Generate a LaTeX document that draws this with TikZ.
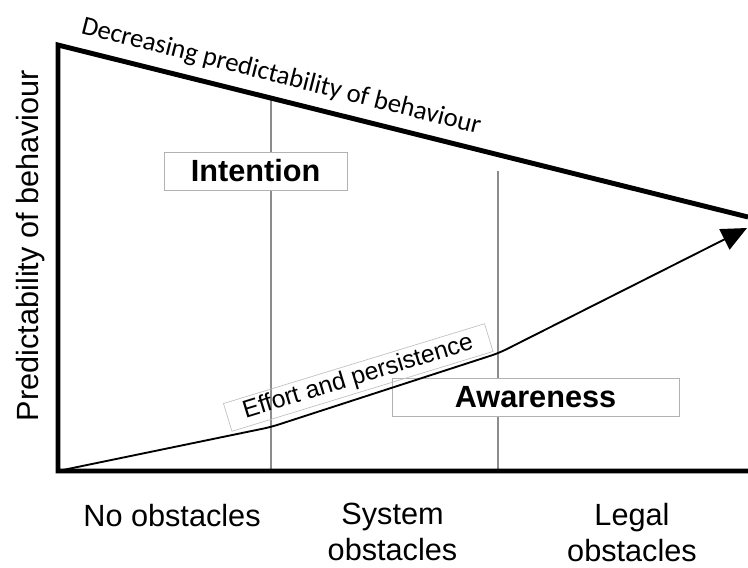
\documentclass[tikz,border=0pt]{standalone}
\usepackage{fontspec}
\setmainfont{Liberation Sans}
\newfontfamily\calibrifont{Carlito}
\usetikzlibrary{arrows.meta}

\tikzset{
	divider/.style={line width=1.5pt, color=black!45},
	boxlabel/.style={draw=black!30, line width=0.6pt, fill=white, minimum height=28.5pt, inner sep=0pt, font=\fontsize{23}{27}\selectfont\bfseries},
	axislabel/.style={font=\fontsize{23}{27}\selectfont, align=center, inner sep=0pt},
}

\begin{document}
\begin{tikzpicture}[x=0.75pt, y=-0.75pt]
			%%%%% START %%%%%
			\useasboundingbox (0,0) rectangle (748,567);
			
			\coordinate (topleft) at (58,45);
			\coordinate (topright) at (748,217);
			\coordinate (origin) at (58,471);
			\coordinate (bottomright) at (748,471);
			
			\coordinate (divonetop) at (271,100);
			\coordinate (divonebot) at (271,471);
			\coordinate (divtwotop) at (498,171);
			\coordinate (divtwobot) at (498,471);
			
			\coordinate (kneeone) at (271,427);
			\coordinate (kneetwo) at (499,353);
			\coordinate (tip) at (747,228);
			
			% obstacle dividers
			\draw[divider] (divonetop) -- (divonebot);
			\draw[divider] (divtwotop) -- (divtwobot);
			
			% frame
			\draw[line width=3.7pt, miter limit=20] (topright) -- (topleft) -- (origin) -- (bottomright);
			
			% boxes
			\node[boxlabel, minimum width=137.25pt] (intention) at (255.5,171) {Intention};
			\node[boxlabel, minimum width=215.25pt] (awareness) at (535.5,397) {Awareness};
			
			\node[draw=black!25, line width=0.5pt, rotate=17, minimum width=204.75pt, minimum height=21.75pt, inner sep=0pt, font=\fontsize{18.5}{22}\selectfont] (effort) at (358.25,377.5) {Effort and persistence};
			
			% effort curve
			\draw[line width=1.4pt, rounded corners=6pt, -{Triangle[length=19pt, width=17pt]}] (origin) -- (kneeone) -- (kneetwo) -- (tip);
			
			% texts
			\node[rotate=-14.2, anchor=base west, inner sep=0pt, font=\calibrifont\fontsize{20}{24}\selectfont] (decreasing) at (80,33) {Decreasing predictability of behaviour};
			\node[rotate=90, anchor=base, inner sep=0pt, font=\fontsize{23}{27}\selectfont] (ylabel) at (38,245.5) {Predictability of behaviour};
			
			\node[axislabel, anchor=north] (noobstacles) at (172,504) {No obstacles};
			\node[axislabel, anchor=north] (systemobstacles) at (392.5,503) {System\\obstacles};
			\node[axislabel, anchor=north] (legalobstacles) at (632,503) {Legal\\obstacles};
			
			%%%%% END %%%%%
\end{tikzpicture}
\end{document}
